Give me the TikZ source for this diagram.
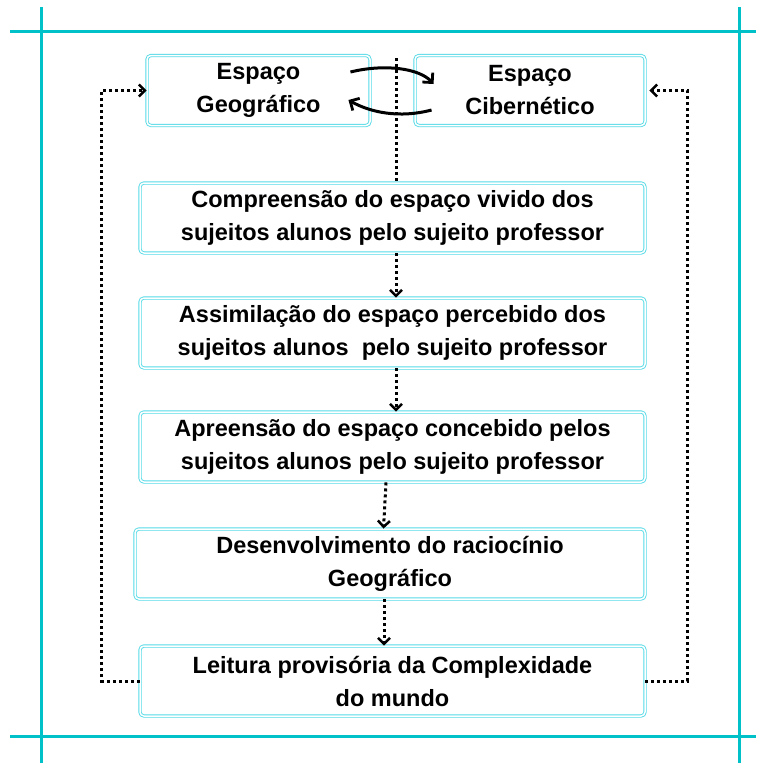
\documentclass[tikz,border=0pt]{standalone}
\usepackage{fontspec}
\setmainfont{Liberation Sans}
\usetikzlibrary{arrows.meta}
\definecolor{moldura}{RGB}{0,192,200}
\definecolor{borda}{RGB}{85,218,230}
\tikzset{
	caixa/.style={draw=borda,double=white,line width=0.9pt,double distance=1.5pt,rounded corners=4pt,
		minimum height=70pt,align=center,inner sep=0pt,
		font=\bfseries\fontsize{23.5}{33}\selectfont},
	pontos/.style={line width=3pt,dash pattern=on 3pt off 3pt},
	seta/.style={pontos,-{Straight Barb[length=6pt,width=12pt,line width=2.5pt]}},
	troca/.style={line width=3pt,-{Straight Barb[length=7pt,width=14pt,line width=2.8pt]}}
}
\begin{document}
\begin{tikzpicture}[x=1pt,y=-1pt]
	\useasboundingbox (0,0) rectangle (756,763);
	% moldura
	\draw[moldura,line width=3pt] (10,31) -- (756,31);
	\draw[moldura,line width=3pt] (10,736) -- (756,736);
	\draw[moldura,line width=3pt] (41,7) -- (41,763);
	\draw[moldura,line width=3pt] (739,7) -- (739,763);
	% caixas
	\node[caixa,minimum width=223pt] (geo) at (258.5,90.5) {Espaço\\Geográfico};
	\node[caixa,minimum width=230pt] (ciber) at (530,90.5) {Espaço\\Cibernético};
	\node[caixa,minimum width=505pt] (compreensao) at (392.5,218) {Compreensão do espaço vivido dos\\sujeitos alunos pelo sujeito professor};
	\node[caixa,minimum width=505pt] (assimilacao) at (392.5,333) {Assimilação do espaço percebido dos\\sujeitos alunos\ \ pelo sujeito professor};
	\node[caixa,minimum width=505pt] (apreensao) at (392.5,447) {Apreensão do espaço concebido pelos\\sujeitos alunos pelo sujeito professor};
	\node[caixa,minimum width=510pt] (desenvolvimento) at (390,564) {Desenvolvimento do raciocínio\\Geográfico};
	\node[caixa,minimum width=505pt] (leitura) at (392.5,681) {Leitura provisória da Complexidade\\do mundo};
	% ligacoes
	\coordinate (topo) at (396,58);
	\draw[pontos] (topo) -- (topo |- compreensao.north);
	\draw[seta] ([xshift=3.5pt]compreensao.south) -- ([xshift=3.5pt]assimilacao.north);
	\draw[seta] ([xshift=3.5pt]assimilacao.south) -- ([xshift=3.5pt]apreensao.north);
	\draw[seta] ([xshift=-6.5pt]apreensao.south) -- ([xshift=-6.5pt]desenvolvimento.north);
	\draw[seta] ([xshift=-6pt]desenvolvimento.south) -- ([xshift=-8.5pt]leitura.north);
	\draw[seta] (leitura.west) -- ++(-38,0) |- (geo.west);
	\draw[seta,shorten >=4pt] (leitura.east) -- ++(42,0) |- (ciber.east);
	% troca entre os espacos
	\draw[troca] ([xshift=-20pt,yshift=18.5pt]geo.east) .. controls ([xshift=15pt,yshift=27pt]geo.east) and ([xshift=5pt,yshift=22pt]ciber.west) .. ([xshift=19pt,yshift=6.5pt]ciber.west);
	\draw[troca] ([xshift=17pt,yshift=-19.5pt]ciber.west) .. controls ([xshift=-15pt,yshift=-28pt]ciber.west) and ([xshift=0pt,yshift=-22pt]geo.east) .. ([xshift=-22pt,yshift=-9.5pt]geo.east);
\end{tikzpicture}
\end{document}
